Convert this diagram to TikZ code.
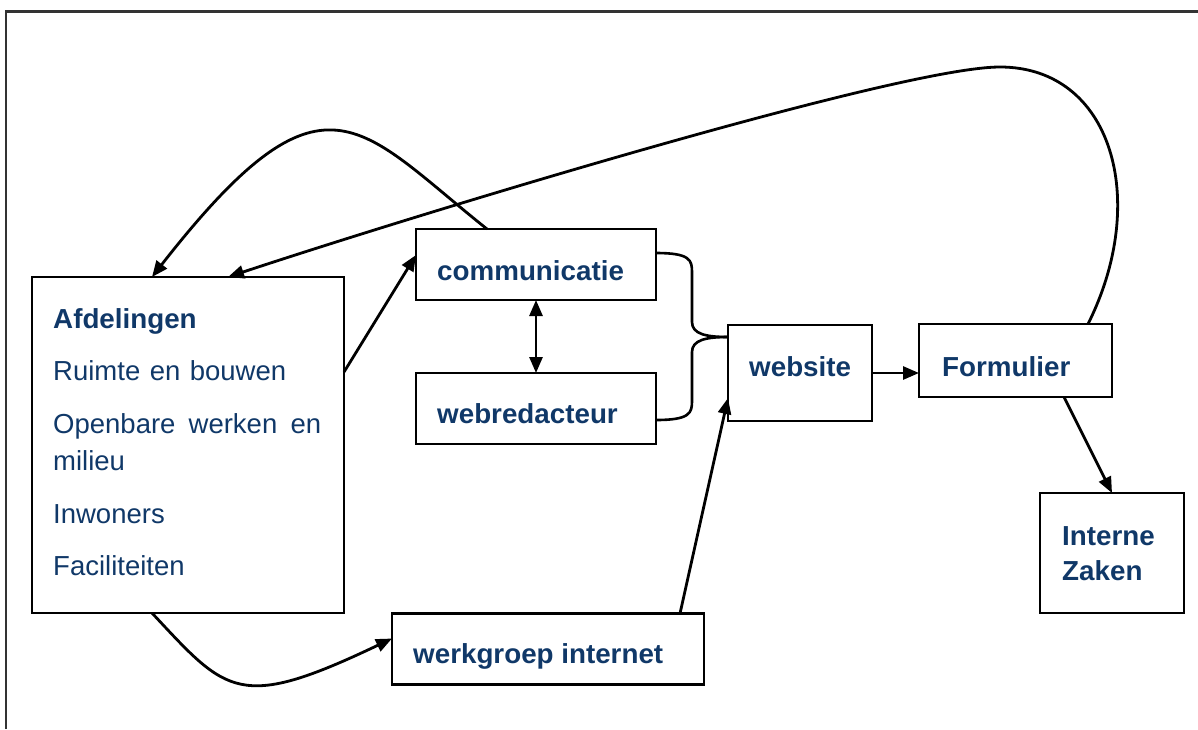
\documentclass[tikz,border=0pt]{standalone}
\usepackage{fontspec}
\setmainfont{Liberation Sans}
\newfontfamily\regfont{Liberation Sans}
\newfontfamily\lblfont[FakeStretch=1.01]{Liberation Sans}
\usetikzlibrary{arrows.meta}
\definecolor{navy}{RGB}{16,56,104}
\tikzset{
  box/.style={draw, line width=2.8pt, inner sep=0pt, outer sep=0pt},
  lbl/.style={anchor=base west, inner sep=0pt, text=navy, font=\lblfont\bfseries\fontsize{27.5pt}{31pt}\selectfont},
  itm/.style={anchor=base west, inner sep=0pt, text=navy, font=\regfont\fontsize{27.5pt}{31pt}\selectfont},
  arr/.style={line width=2.8pt, -{Triangle[length=16pt,width=13pt]}},
  dbl/.style={line width=2.8pt, {Triangle[length=16pt,width=13pt]}-{Triangle[length=16pt,width=13pt]}},
  con/.style={line width=2.6pt}
}
\begin{document}
\begin{tikzpicture}[x=1pt,y=-1pt]
\useasboundingbox (0,0) rectangle (1198,729);
% frame
\draw[line width=2.2pt, black!80] (6,729) -- (6,11.5) -- (1198,11.5);
% boxes
\node[box, minimum width=312pt, minimum height=336pt] (afd) at (188,445) {};
\node[box, minimum width=240pt, minimum height=71pt] (com) at (536,264.5) {};
\node[box, minimum width=240pt, minimum height=71pt] (web) at (536,408.5) {};
\node[box, minimum width=144pt, minimum height=96pt] (site) at (800,373) {};
\node[box, minimum width=193pt, minimum height=73pt] (form) at (1015.5,360.5) {};
\node[box, minimum width=144pt, minimum height=120pt] (iz) at (1112,553) {};
\node[box, minimum width=312pt, minimum height=71pt] (wg) at (548,649) {};
% texts
\node[lbl] (tafd) at (53,328) {Afdelingen};
\node[itm] (t1) at (53,380) {\makebox[233pt][s]{Ruimte en bouwen}};
\node[itm] (t2) at (53,433) {\makebox[268pt][s]{Openbare werken en}};
\node[itm] (t3) at (53,470) {milieu};
\node[itm] (t4) at (53,523) {Inwoners};
\node[itm] (t5) at (53,575) {Faciliteiten};
\node[lbl] (tcom) at (437,280) {communicatie};
\node[lbl] (tweb) at (437,423) {webredacteur};
\node[lbl] (tsite) at (749,376) {website};
\node[lbl] (tform) at (942,376) {Formulier};
\node[lbl] (tiz1) at (1062,545) {Interne};
\node[lbl] (tiz2) at (1062,580) {Zaken};
\node[lbl] (twg) at (413,663) {werkgroep internet};
% connectors
\draw[arr] ([xshift=71pt]com.north west) to[out=141.5, in=52, out distance=165pt, in distance=280pt] ([xshift=120pt]afd.north west);
\draw[arr] ([xshift=169pt]form.north west) .. controls (1150,200) and (1112,67) .. (1000,67) .. controls (900,67) and (418,214) .. ([xshift=196pt]afd.north west);
\draw[arr] ([yshift=-95pt]afd.north east) -- ([yshift=-26pt]com.north west);
\draw[dbl] (com.south) -- (web.north);
\draw[arr] ([xshift=120pt]afd.south west) to[out=-47, in=205.5, out distance=110pt, in distance=170pt] ([yshift=-25pt]wg.north west);
\draw[arr] ([xshift=288pt]wg.north west) -- ([yshift=23pt]site.south west);
\draw[arr] (site.east) -- (site.east -| form.west);
\draw[arr] ([xshift=145pt]form.south west) -- (iz.north);
% braces
\draw[con] ([yshift=11.5pt]com.east) .. controls (690,253) and (692,260) .. (692,272) -- (692,322) .. controls (692,334) and (706,337) .. ([yshift=-12pt]site.north west);
\draw[con] ([yshift=-11.5pt]web.east) .. controls (690,420) and (692,413) .. (692,401) -- (692,352) .. controls (692,340) and (706,337) .. ([yshift=-12pt]site.north west);
\end{tikzpicture}
\end{document}
